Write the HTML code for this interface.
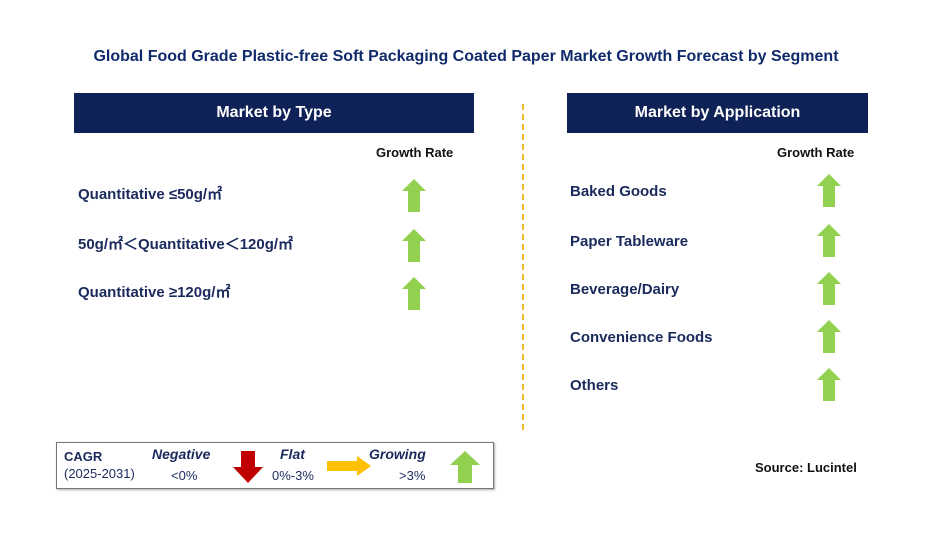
<!DOCTYPE html>
<html><head><meta charset="utf-8"><style>
body{margin:0;width:932px;height:536px;background:#fff;position:relative;font-family:"Liberation Sans",Arial,sans-serif;overflow:hidden}
.a{position:absolute}
.t{color:#1b2a5c;font-weight:bold;font-size:15px;white-space:nowrap}
.hdr{background:#0f2257;color:#fff;font-weight:bold;font-size:16px;text-align:center;line-height:40px;height:40px}
.gr{font-size:13px;font-weight:bold;color:#111}
svg.ar{position:absolute}
</style></head><body>
<div class="a t" style="left:0;width:932px;top:48px;text-align:center;font-size:16px;color:#102a6b">Global Food Grade Plastic-free Soft Packaging Coated Paper Market Growth Forecast by Segment</div>
<div class="a hdr" style="left:74px;top:93px;width:400px">Market by Type</div>
<div class="a hdr" style="left:567px;top:93px;width:301px">Market by Application</div>
<div class="a" style="left:522px;top:104px;height:326px;border-left:2px dashed #f5b82e"></div>
<div class="a gr" style="left:376px;top:145px">Growth Rate</div>
<div class="a gr" style="left:777px;top:145px">Growth Rate</div>
<div id="rows"></div>
<div class="a" style="left:56px;top:442px;width:436px;height:45px;border:1px solid #777;box-shadow:1px 1px 2px #aaa"></div>
<div class="a t" style="left:64px;top:449px;font-size:13px">CAGR</div>
<div class="a t" style="left:64px;top:466px;font-size:13px;font-weight:normal">(2025-2031)</div>
<div class="a t" style="left:152px;top:446px;font-size:14px;font-style:italic">Negative</div>
<div class="a t" style="left:171px;top:468px;font-size:13px;font-weight:normal">&lt;0%</div>
<div class="a t" style="left:280px;top:446px;font-size:14px;font-style:italic">Flat</div>
<div class="a t" style="left:272px;top:468px;font-size:13px;font-weight:normal">0%-3%</div>
<div class="a t" style="left:369px;top:446px;font-size:14px;font-style:italic">Growing</div>
<div class="a t" style="left:399px;top:468px;font-size:13px;font-weight:normal">&gt;3%</div>
<svg class="ar" style="left:233px;top:451px" width="30" height="32"><polygon points="8,0 22,0 22,16 30,16 15,32 0,16 8,16" fill="#c00000"/></svg>
<svg class="ar" style="left:327px;top:456px" width="44" height="20"><polygon points="0,5 30,5 30,0 44,10 30,20 30,15 0,15" fill="#ffc000"/></svg>
<svg class="ar" style="left:450px;top:451px" width="30" height="32"><polygon points="15,0 30,14 22,14 22,32 8,32 8,14 0,14" fill="#92d050"/></svg>
<div class="a gr" style="left:755px;top:460px">Source: Lucintel</div>
<script>
const typeLabels=["Quantitative ≤50g/㎡","50g/㎡＜Quantitative＜120g/㎡","Quantitative ≥120g/㎡"];
const typeY=[183,233,281];
const appLabels=["Baked Goods","Paper Tableware","Beverage/Dairy","Convenience Foods","Others"];
const appY=[183,233,281,329,377];
const rows=document.getElementById('rows');
function arrow(x,y,name){
  const s=document.createElementNS('http://www.w3.org/2000/svg','svg');
  s.setAttribute('class','ar');s.setAttribute('width','24');s.setAttribute('height','33');
  s.style.left=x+'px';s.style.top=y+'px';
  
  
  s.innerHTML='<polygon points="12,0 24,12 18,12 18,33 6,33 6,12 0,12" fill="#92d050"/>';
  document.body.appendChild(s);
}
function label(x,y,txt,name){
  const d=document.createElement('div');d.className='a t';d.style.left=x+'px';d.style.top=y+'px';d.textContent=txt;
  
  
  rows.appendChild(d);
}
typeLabels.forEach((t,i)=>{label(78,typeY[i],t,'type-label');arrow(402,typeY[i]-4,'type-growth-arrow');});
appLabels.forEach((t,i)=>{label(570,appY[i],t,'application-label');arrow(817,appY[i]-9,'application-growth-arrow');});
</script>
</body></html>
